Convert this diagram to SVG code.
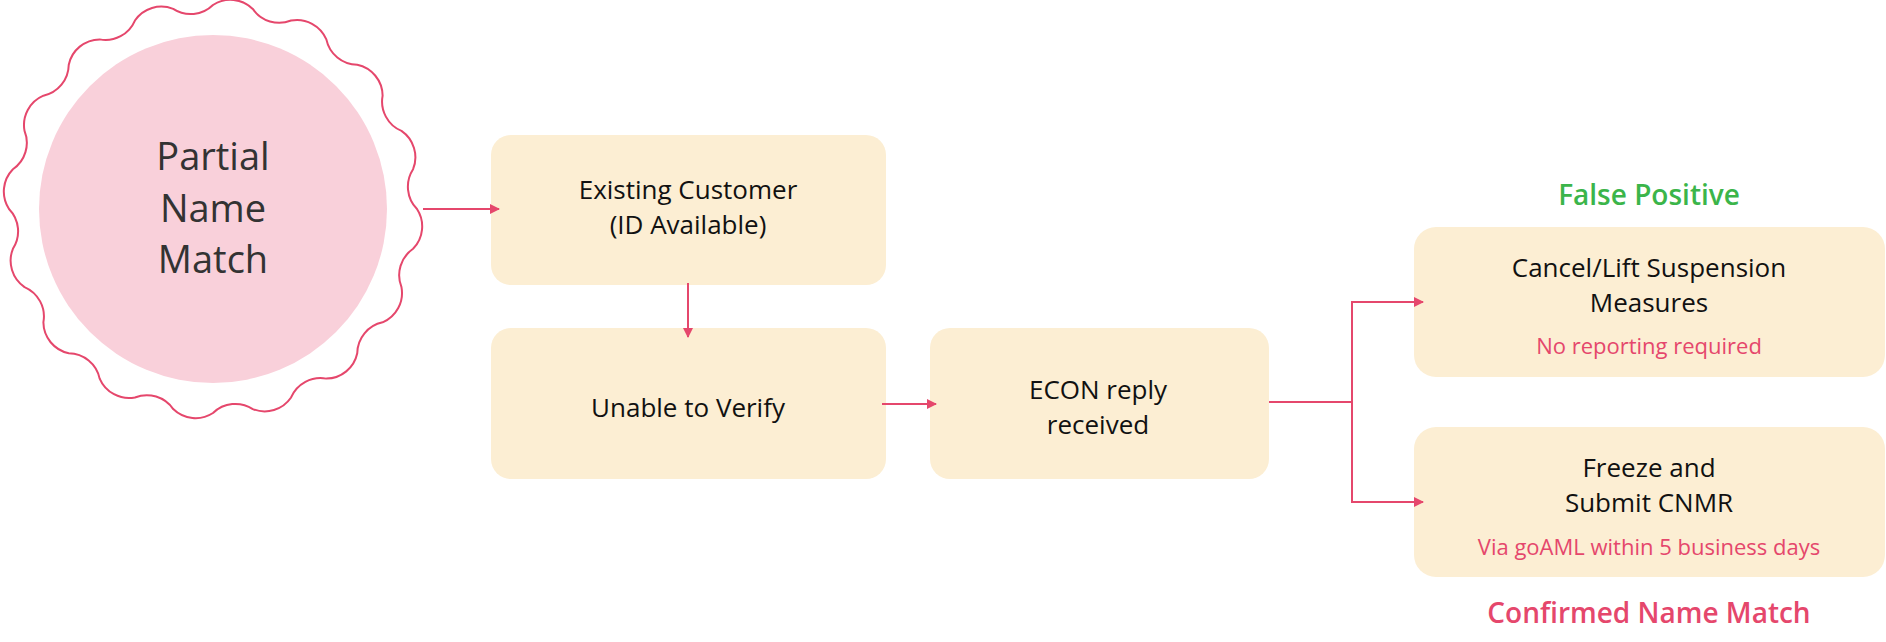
<svg xmlns="http://www.w3.org/2000/svg" width="1886" height="642" viewBox="0 0 1886 642">
<style>
.box{fill:#FCEED3}
.t{font-family:"Open Sans","Liberation Sans",sans-serif;fill:#111;text-anchor:middle;font-size:26px}
.big{font-size:38px;fill:#333;font-weight:500}
.sub{font-size:22px;fill:#E5476C}
.lab{font-size:28px;font-weight:600}
.c{stroke:#E5476C;stroke-width:2;fill:none}
</style>
<defs><marker id="ah" markerWidth="10" markerHeight="10" refX="9" refY="5" orient="auto" markerUnits="userSpaceOnUse" viewBox="0 0 10 10"><path d="M0,0L10,5L0,10z" fill="#E5476C"/></marker></defs>
<rect width="1886" height="642" fill="#fff"/>
<g id="n-partial">
<path class="c" stroke-width="1.6" d="M417,209 A32,32 0 0 1 413.08,248.80 A32,32 0 0 0 401.47,287.07 A32,32 0 0 1 382.62,322.34 A32,32 0 0 0 357.25,353.25 A32,32 0 0 1 326.34,378.62 A32,32 0 0 0 291.07,397.47 A32,32 0 0 1 252.80,409.08 A32,32 0 0 0 213,413 A32,32 0 0 1 173.20,409.08 A32,32 0 0 0 134.93,397.47 A32,32 0 0 1 99.66,378.62 A32,32 0 0 0 68.75,353.25 A32,32 0 0 1 43.38,322.34 A32,32 0 0 0 24.53,287.07 A32,32 0 0 1 12.92,248.80 A32,32 0 0 0 9,209 A32,32 0 0 1 12.92,169.20 A32,32 0 0 0 24.53,130.93 A32,32 0 0 1 43.38,95.66 A32,32 0 0 0 68.75,64.75 A32,32 0 0 1 99.66,39.38 A32,32 0 0 0 134.93,20.53 A32,32 0 0 1 173.20,8.92 A32,32 0 0 0 213,5 A32,32 0 0 1 252.80,8.92 A32,32 0 0 0 291.07,20.53 A32,32 0 0 1 326.34,39.38 A32,32 0 0 0 357.25,64.75 A32,32 0 0 1 382.62,95.66 A32,32 0 0 0 401.47,130.93 A32,32 0 0 1 413.08,169.20 A32,32 0 0 0 417,209 Z"/>
<circle cx="213" cy="209" r="174" fill="#F9D0DA"/>
<text class="t big" x="213" y="170">Partial</text>
<text class="t big" x="213" y="222">Name</text>
<text class="t big" x="213" y="273">Match</text>
</g>
<g id="n-existing"><rect class="box" x="491" y="135" width="395" height="150" rx="20"/>
<text class="t" x="688" y="199">Existing Customer</text><text class="t" x="688" y="234">(ID Available)</text></g>
<g id="n-unable"><rect class="box" x="491" y="328" width="395" height="151" rx="20"/>
<text class="t" x="688" y="417">Unable to Verify</text></g>
<g id="n-econ"><rect class="box" x="930" y="328" width="339" height="151" rx="20"/>
<text class="t" x="1098" y="399">ECON reply</text><text class="t" x="1098" y="434">received</text></g>
<g id="n-cancel"><rect class="box" x="1414" y="227" width="471" height="150" rx="22"/>
<text class="t" x="1649" y="277">Cancel/Lift Suspension</text><text class="t" x="1649" y="312">Measures</text>
<text class="t sub" x="1649" y="354">No reporting required</text></g>
<g id="n-freeze"><rect class="box" x="1414" y="427" width="471" height="150" rx="22"/>
<text class="t" x="1649" y="477">Freeze and</text><text class="t" x="1649" y="512">Submit CNMR</text>
<text class="t sub" x="1649" y="555">Via goAML within 5 business days</text></g>
<g id="labels">
<text class="t lab" x="1649" y="205" fill="#3BB54A" style="fill:#3BB54A">False Positive</text>
<text class="t lab" x="1649" y="623" style="fill:#E5476C">Confirmed Name Match</text>
</g>
<g id="connectors">
<path class="c" d="M423,209H499" marker-end="url(#ah)"/>
<path class="c" d="M688,283V337" marker-end="url(#ah)"/>
<path class="c" d="M882,404H936" marker-end="url(#ah)"/>
<path class="c" d="M1269,402H1352V302H1423" marker-end="url(#ah)"/>
<path class="c" d="M1352,402V502H1423" marker-end="url(#ah)"/>
</g>
</svg>
